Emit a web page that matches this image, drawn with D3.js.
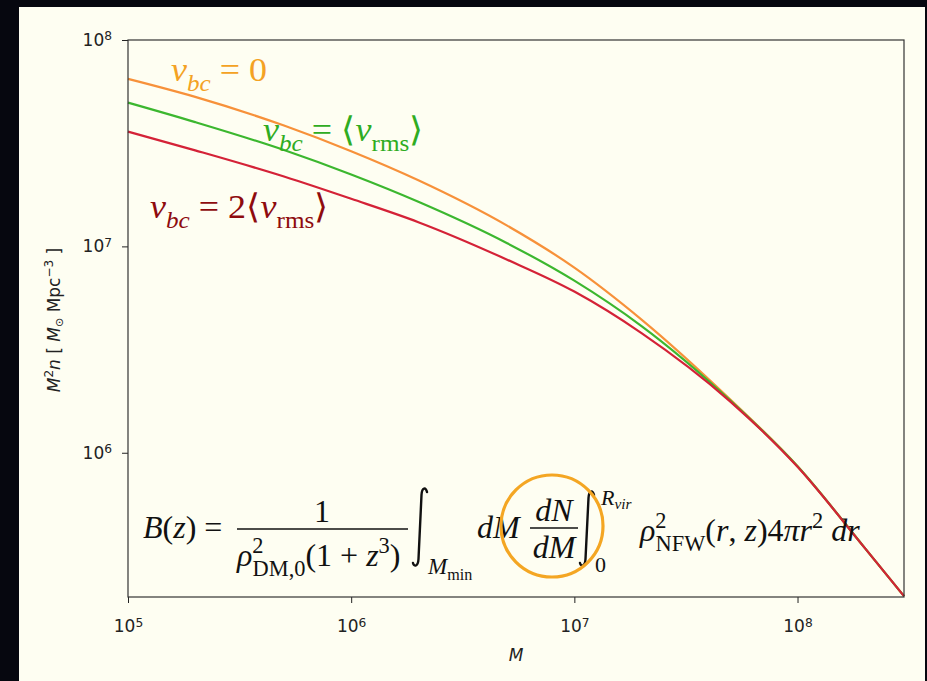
<!DOCTYPE html>
<html>
<head>
<meta charset="utf-8">
<script src="https://cdn.jsdelivr.net/npm/d3@7"></script>
<style>
  html, body { margin: 0; padding: 0; background: #06070f; }
  svg { display: block; }
</style>
</head>
<body>
<div id="chart"></div>
<script>
// halo mass (x) and M^2 n for the three streaming velocities
const masses = [1e5, 2e5, 5e5, 1e6, 2e6, 5e6, 1e7, 2e7, 5e7, 1e8, 2e8, 3e8];
const vbc0 = [6.48e7, 5.30e7, 3.85e7, 2.89e7, 2.09e7, 1.26e7, 7.89e6, 4.42e6, 1.81e6, 8.6e5, 3.46e5, 2.02e5];
const vbc1 = [4.97e7, 4.00e7, 2.93e7, 2.23e7, 1.645e7, 1.036e7, 6.82e6, 4.11e6, 1.79e6, 8.6e5, 3.46e5, 2.02e5];
const vbc2 = [3.60e7, 2.92e7, 2.18e7, 1.70e7, 1.31e7, 8.62e6, 6.04e6, 3.80e6, 1.77e6, 8.55e5, 3.46e5, 2.02e5];
const seriesNames = ["vbc0", "vbc1", "vbc2"];
const xMajor = [1e5, 1e6, 1e7, 1e8];
const yMajor = [1e6, 1e7, 1e8];

const width = 927, height = 681;
const plot = {left: 128, right: 904, top: 40, bottom: 597};

const svg = d3.select("#chart").append("svg")
    .attr("width", width)
    .attr("height", height);

svg.append("rect").attr("width", width).attr("height", height).attr("fill", "#06070f");
svg.append("rect")
    .attr("x", 19).attr("y", 7)
    .attr("width", 906).attr("height", height)
    .attr("fill", "#fefef2");

const x = d3.scaleLog().domain([1e5, 3e8]).range([plot.left, plot.right]);
const y = d3.scaleLog().domain([2e5, 1e8]).range([plot.bottom, plot.top]);

// minor ticks 2..9 per decade
const minorX = [], minorY = [];
for (let e = 5; e <= 8; e++) for (let k = 2; k <= 9; k++) {
    const v = k * Math.pow(10, e);
    if (v <= 3e8) minorX.push(v);
}
for (let e = 5; e <= 7; e++) for (let k = 2; k <= 9; k++) {
    const v = k * Math.pow(10, e);
    if (v >= 2e5) minorY.push(v);
}

const supLabel = function (d) {
    const t = d3.select(this).text(null);
    t.append("tspan").text("10");
    t.append("tspan").attr("dy", "-0.45em").attr("font-size", "0.72em")
        .text(Math.round(Math.log10(d)));
};

const gx = svg.append("g").attr("transform", `translate(0,${plot.bottom})`);
gx.call(d3.axisBottom(x).tickValues(minorX).tickSize(3.5).tickFormat(""));
gx.call(d3.axisBottom(x).tickValues(xMajor).tickSize(6).tickPadding(17));
gx.select(".domain").remove();
gx.selectAll("line").attr("stroke", "#222");
gx.selectAll(".tick text")
    .attr("font-family", "DejaVu Sans").attr("font-size", 17).attr("fill", "#222")
    .each(supLabel);

const gy = svg.append("g").attr("transform", `translate(${plot.left},0)`);
gy.call(d3.axisLeft(y).tickValues(minorY).tickSize(3.5).tickFormat(""));
gy.call(d3.axisLeft(y).tickValues(yMajor).tickSize(6).tickPadding(10));
gy.select(".domain").remove();
gy.selectAll("line").attr("stroke", "#222");
gy.selectAll(".tick text")
    .attr("font-family", "DejaVu Sans").attr("font-size", 17).attr("fill", "#222")
    .each(supLabel);

// curves (red drawn last, on top)
const series = [
    {name: seriesNames[0], values: vbc0, color: "#f7913a"},
    {name: seriesNames[1], values: vbc1, color: "#3cb72f"},
    {name: seriesNames[2], values: vbc2, color: "#d42237"}
];
const line = d3.line()
    .x((d, i) => x(masses[i]))
    .y(d => y(d))
    .curve(d3.curveMonotoneX);

svg.append("g").attr("fill", "none").attr("stroke-width", 2.2)
    .selectAll("path")
    .data(series)
    .join("path")
    .attr("stroke", d => d.color)
    .attr("d", d => line(d.values));

// frame
svg.append("rect")
    .attr("x", plot.left).attr("y", plot.top)
    .attr("width", plot.right - plot.left).attr("height", plot.bottom - plot.top)
    .attr("fill", "none").attr("stroke", "#333").attr("stroke-width", 1.2);

// math-ish text helper
function mathText(px, py, parts, opts) {
    const fs = opts.size;
    const sx = opts.sx || 1;
    const t = svg.append("text")
        .attr("transform", `translate(${px},${py}) scale(${sx},1)`)
        .attr("font-family", opts.family || "Liberation Serif")
        .attr("font-size", fs)
        .attr("fill", opts.fill);
    let cur = 0;
    parts.forEach(p => {
        let off = 0, size = fs;
        if (p.sub) { off = fs * (p.subOff || 0.3); size = fs * (p.scale || 0.7); }
        if (p.sup) { off = -fs * (p.supOff || 0.42); size = fs * (p.scale || 0.7); }
        const s = t.append("tspan")
            .attr("dy", off - cur)
            .attr("font-size", size)
            .attr("font-style", p.i ? "italic" : "normal")
            .text(p.t);
        if (p.dx) s.attr("dx", p.dx);
        cur = off;
    });
    return t;
}

const lblSize = 34;
mathText(171, 81, [
    {t: "v", i: true}, {t: "bc", i: true, sub: true}, {t: " = 0"}
], {size: lblSize, fill: "#f4a224", sx: 1.06});
mathText(263, 141, [
    {t: "v", i: true}, {t: "bc", i: true, sub: true}, {t: " = ⟨"},
    {t: "v", i: true}, {t: "rms", sub: true}, {t: "⟩"}
], {size: lblSize, fill: "#2fac22", sx: 1.06});
mathText(150, 218, [
    {t: "v", i: true}, {t: "bc", i: true, sub: true}, {t: " = 2⟨"},
    {t: "v", i: true}, {t: "rms", sub: true}, {t: "⟩"}
], {size: lblSize, fill: "#8e0b0e", sx: 1.06});

// axis labels
svg.append("text")
    .attr("x", (plot.left + plot.right) / 2).attr("y", 661)
    .attr("text-anchor", "middle")
    .attr("font-family", "DejaVu Sans").attr("font-size", 17)
    .attr("font-style", "italic").attr("fill", "#222")
    .text("M");

const yl = svg.append("text")
    .attr("transform", "translate(60,320) rotate(-90)")
    .attr("text-anchor", "middle")
    .attr("font-family", "DejaVu Sans").attr("font-size", 17)
    .attr("fill", "#222");
yl.append("tspan").attr("font-style", "italic").text("M");
yl.append("tspan").attr("dy", -7).attr("font-size", 12).text("2");
yl.append("tspan").attr("dy", 7).attr("font-style", "italic").text("n");
yl.append("tspan").text(" [ ");
yl.append("tspan").attr("font-style", "italic").text("M");
yl.append("tspan").attr("dy", 3).attr("font-size", 11).text("⊙");
yl.append("tspan").attr("dy", -3).text(" Mpc");
yl.append("tspan").attr("dy", -7).attr("font-size", 12).text("−3");
yl.append("tspan").attr("dy", 7).text(" ]");

// formula
const fz = 32, black = "#111";
mathText(143, 538, [
    {t: "B", i: true}, {t: "("}, {t: "z", i: true}, {t: ") ="}
], {size: fz, fill: black});
svg.append("line").attr("x1", 237).attr("x2", 408).attr("y1", 529).attr("y2", 529)
    .attr("stroke", black).attr("stroke-width", 1.6);
mathText(322, 522, [{t: "1"}], {size: fz, fill: black}).attr("text-anchor", "middle");
mathText(237, 566, [
    {t: "ρ", i: true}, {t: "2", sup: true, supOff: 0.4}, {t: "DM,0", sub: true, dx: -11},
    {t: "(1 + "}, {t: "z", i: true}, {t: "3", sup: true}, {t: ")"}
], {size: fz, fill: black});

// integral signs drawn as thin strokes
const integral = (x0, top, bot) => {
    const p = d3.path();
    p.moveTo(x0 + 10, top + 4);
    p.bezierCurveTo(x0 + 9, top - 1, x0 + 5, top - 1, x0 + 4.5, top + 7);
    p.lineTo(x0 + 1.5, bot - 7);
    p.bezierCurveTo(x0 + 1, bot + 1, x0 - 3, bot + 1, x0 - 4, bot - 3);
    svg.append("path").attr("d", p.toString())
        .attr("fill", "none").attr("stroke", black).attr("stroke-width", 2.4)
        .attr("stroke-linecap", "round");
};
integral(417, 488, 566);
integral(584, 491, 566);

mathText(428, 574, [{t: "M", i: true}, {t: "min", sub: true, subOff: 0.25}], {size: 23, fill: black});
mathText(477, 538, [{t: "dM", i: true}], {size: fz, fill: black});
svg.append("line").attr("x1", 530).attr("x2", 578).attr("y1", 528).attr("y2", 528)
    .attr("stroke", black).attr("stroke-width", 1.6);
mathText(554, 521, [{t: "dN", i: true}], {size: fz, fill: black}).attr("text-anchor", "middle");
mathText(554, 558, [{t: "dM", i: true}], {size: fz, fill: black}).attr("text-anchor", "middle");
mathText(601, 505, [{t: "R", i: true}, {t: "vir", i: true, sub: true, subOff: 0.2}], {size: 22, fill: black});
mathText(595, 572, [{t: "0"}], {size: 22, fill: black});
mathText(640, 541, [
    {t: "ρ", i: true}, {t: "2", sup: true, supOff: 0.4}, {t: "NFW", sub: true, dx: -11},
    {t: "("}, {t: "r", i: true}, {t: ", "}, {t: "z", i: true}, {t: ")4"},
    {t: "πr", i: true}, {t: "2", sup: true}, {t: " dr", i: true}
], {size: fz, fill: black});

// highlight circle
svg.append("circle").attr("cx", 552).attr("cy", 526).attr("r", 51)
    .attr("fill", "none").attr("stroke", "#f4a623").attr("stroke-width", 3.2);
</script>
</body>
</html>
